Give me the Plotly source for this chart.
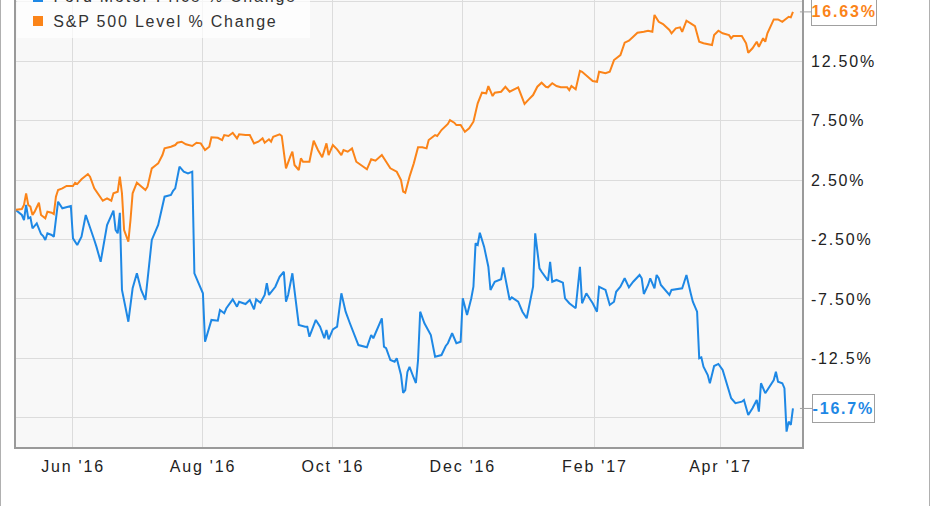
import plotly.graph_objects as go

# ---------------- data ----------------
sp_dates = [
    "2016-05-05", "2016-05-08", "2016-05-09", "2016-05-10", "2016-05-11", "2016-05-12", "2016-05-13",
    "2016-05-14", "2016-05-16", "2016-05-17", "2016-05-19", "2016-05-20", "2016-05-22", "2016-05-23",
    "2016-05-24", "2016-05-25", "2016-05-27", "2016-05-29", "2016-06-01", "2016-06-02", "2016-06-03",
    "2016-06-05", "2016-06-08", "2016-06-09", "2016-06-11", "2016-06-13", "2016-06-15", "2016-06-17",
    "2016-06-19", "2016-06-20", "2016-06-22", "2016-06-23", "2016-06-24", "2016-06-25", "2016-06-27",
    "2016-06-28", "2016-06-29", "2016-07-01", "2016-07-03", "2016-07-05", "2016-07-06", "2016-07-08",
    "2016-07-10", "2016-07-11", "2016-07-13", "2016-07-14", "2016-07-17", "2016-07-19", "2016-07-20",
    "2016-07-22", "2016-07-24", "2016-07-27", "2016-07-29", "2016-07-31", "2016-08-02", "2016-08-04",
    "2016-08-05", "2016-08-08", "2016-08-10", "2016-08-11", "2016-08-13", "2016-08-15", "2016-08-17",
    "2016-08-18", "2016-08-21", "2016-08-23", "2016-08-25", "2016-08-27", "2016-08-29", "2016-08-30",
    "2016-09-01", "2016-09-02", "2016-09-03", "2016-09-06", "2016-09-07", "2016-09-09", "2016-09-11",
    "2016-09-12", "2016-09-13", "2016-09-15", "2016-09-16", "2016-09-17", "2016-09-20", "2016-09-22",
    "2016-09-24", "2016-09-26", "2016-09-28", "2016-09-29", "2016-10-01", "2016-10-03", "2016-10-05",
    "2016-10-06", "2016-10-08", "2016-10-10", "2016-10-12", "2016-10-14", "2016-10-17", "2016-10-19",
    "2016-10-21", "2016-10-24", "2016-10-26", "2016-10-28", "2016-10-31", "2016-11-02", "2016-11-03",
    "2016-11-04", "2016-11-06", "2016-11-08", "2016-11-10", "2016-11-12", "2016-11-14", "2016-11-15",
    "2016-11-17", "2016-11-18", "2016-11-19", "2016-11-21", "2016-11-24", "2016-11-25", "2016-11-27",
    "2016-11-28", "2016-11-30", "2016-12-02", "2016-12-04", "2016-12-06", "2016-12-08", "2016-12-10",
    "2016-12-12", "2016-12-13", "2016-12-15", "2016-12-16", "2016-12-19", "2016-12-21", "2016-12-23",
    "2016-12-25", "2016-12-27", "2016-12-29", "2016-12-30", "2017-01-01", "2017-01-03", "2017-01-05",
    "2017-01-07", "2017-01-09", "2017-01-10", "2017-01-12", "2017-01-14", "2017-01-16", "2017-01-19",
    "2017-01-20", "2017-01-21", "2017-01-23", "2017-01-25", "2017-01-26", "2017-01-29", "2017-01-31",
    "2017-02-02", "2017-02-03", "2017-02-06", "2017-02-08", "2017-02-10", "2017-02-13", "2017-02-15",
    "2017-02-17", "2017-02-19", "2017-02-21", "2017-02-24", "2017-02-26", "2017-02-28", "2017-03-01",
    "2017-03-03", "2017-03-05", "2017-03-08", "2017-03-09", "2017-03-11", "2017-03-13", "2017-03-14",
    "2017-03-16", "2017-03-18", "2017-03-20", "2017-03-22", "2017-03-24", "2017-03-28", "2017-03-29",
    "2017-03-31", "2017-04-02", "2017-04-05", "2017-04-06", "2017-04-07", "2017-04-11", "2017-04-13",
    "2017-04-14", "2017-04-16", "2017-04-18", "2017-04-19", "2017-04-21", "2017-04-22", "2017-04-23",
    "2017-04-26", "2017-04-28", "2017-04-30", "2017-05-02", "2017-05-03", "2017-05-04", "2017-05-05",
]
sp_values = [
    0.0, 0.06, 0.4, 1.38, 0.4, 0.26, -0.44,
    -0.16, 0.59, -0.44, -0.72, -0.16, -0.25, -0.36,
    1.1, 1.66, 1.8, 2.0, 2.0, 2.27, 2.16,
    2.56, 3.0, 2.78, 1.8, 1.24, 0.76, 0.96,
    0.76, 1.38, 1.52, 2.78, 1.38, -1.7, -2.68,
    -0.86, 1.38, 2.27, 2.0, 1.66, 1.94, 3.48,
    3.76, 3.9, 4.6, 5.16, 5.3, 5.44, 5.63,
    5.72, 5.5, 5.36, 5.63, 5.58, 5.02, 5.3,
    6.09, 6.05, 5.86, 6.28, 6.2, 6.47, 6.0,
    6.34, 6.28, 6.28, 5.58, 5.72, 6.0, 5.63,
    5.92, 5.72, 6.14, 6.34, 6.2, 3.48, 4.46,
    4.88, 3.76, 3.34, 4.32, 4.04, 4.04, 5.8,
    5.02, 4.41, 5.58, 4.6, 5.44, 5.08, 4.6,
    5.02, 4.88, 5.16, 4.04, 3.76, 3.4, 4.24,
    4.12, 4.6, 4.04, 3.48, 3.2, 2.5, 1.52,
    1.43, 2.78, 3.9, 5.25, 5.25, 5.16, 5.86,
    6.14, 6.28, 6.2, 6.7, 7.21, 7.54, 7.32,
    7.12, 7.12, 6.56, 6.84, 7.4, 8.95, 9.84,
    9.79, 10.4, 9.56, 9.84, 9.92, 10.34, 9.92,
    10.12, 10.29, 9.37, 8.89, 9.28, 9.64, 10.34,
    10.68, 10.34, 10.29, 10.63, 10.4, 10.29, 10.29,
    10.06, 10.4, 10.12, 11.68, 11.6, 11.18, 10.82,
    10.76, 11.6, 11.47, 11.6, 12.58, 13.0, 14.04,
    14.21, 14.54, 14.88, 14.96, 15.05, 14.96, 16.37,
    15.8, 15.61, 15.11, 14.83, 15.25, 15.33, 14.96,
    15.89, 15.67, 15.44, 14.12, 13.99, 13.84, 14.68,
    15.05, 14.83, 14.68, 14.41, 14.6, 14.6, 13.99,
    13.2, 13.57, 14.12, 13.7, 14.41, 14.12, 14.83,
    16.0, 16.0, 15.8, 16.09, 16.22, 16.17, 16.63,
]

ford_dates = [
    "2016-05-05", "2016-05-08", "2016-05-09", "2016-05-10", "2016-05-11", "2016-05-12", "2016-05-13",
    "2016-05-15", "2016-05-17", "2016-05-18", "2016-05-19", "2016-05-20", "2016-05-22", "2016-05-23",
    "2016-05-25", "2016-05-27", "2016-05-31", "2016-06-01", "2016-06-03", "2016-06-05", "2016-06-07",
    "2016-06-09", "2016-06-11", "2016-06-12", "2016-06-14", "2016-06-17", "2016-06-20", "2016-06-21",
    "2016-06-22", "2016-06-23", "2016-06-24", "2016-06-27", "2016-06-29", "2016-07-01", "2016-07-03",
    "2016-07-05", "2016-07-08", "2016-07-11", "2016-07-13", "2016-07-14", "2016-07-17", "2016-07-18",
    "2016-07-19", "2016-07-21", "2016-07-23", "2016-07-25", "2016-07-27", "2016-07-28", "2016-07-30",
    "2016-08-01", "2016-08-02", "2016-08-04", "2016-08-05", "2016-08-08", "2016-08-09", "2016-08-11",
    "2016-08-12", "2016-08-15", "2016-08-17", "2016-08-18", "2016-08-21", "2016-08-23", "2016-08-25",
    "2016-08-26", "2016-08-28", "2016-08-30", "2016-08-31", "2016-09-01", "2016-09-04", "2016-09-06",
    "2016-09-08", "2016-09-09", "2016-09-10", "2016-09-12", "2016-09-15", "2016-09-18", "2016-09-19",
    "2016-09-20", "2016-09-23", "2016-09-25", "2016-09-27", "2016-09-28", "2016-09-29", "2016-10-01",
    "2016-10-03", "2016-10-05", "2016-10-07", "2016-10-09", "2016-10-12", "2016-10-13", "2016-10-17",
    "2016-10-19", "2016-10-20", "2016-10-24", "2016-10-25", "2016-10-26", "2016-10-28", "2016-10-30",
    "2016-10-31", "2016-11-02", "2016-11-03", "2016-11-04", "2016-11-05", "2016-11-06", "2016-11-08",
    "2016-11-09", "2016-11-10", "2016-11-11", "2016-11-13", "2016-11-15", "2016-11-16", "2016-11-18",
    "2016-11-21", "2016-11-23", "2016-11-24", "2016-11-26", "2016-11-28", "2016-11-30", "2016-12-01",
    "2016-12-03", "2016-12-05", "2016-12-06", "2016-12-07", "2016-12-08", "2016-12-09", "2016-12-11",
    "2016-12-13", "2016-12-14", "2016-12-16", "2016-12-19", "2016-12-20", "2016-12-23", "2016-12-24",
    "2016-12-27", "2016-12-29", "2016-12-31", "2017-01-03", "2017-01-04", "2017-01-06", "2017-01-07",
    "2017-01-10", "2017-01-11", "2017-01-12", "2017-01-14", "2017-01-17", "2017-01-18", "2017-01-20",
    "2017-01-23", "2017-01-25", "2017-01-26", "2017-01-28", "2017-01-30", "2017-01-31", "2017-02-02",
    "2017-02-03", "2017-02-06", "2017-02-08", "2017-02-10", "2017-02-11", "2017-02-13", "2017-02-15",
    "2017-02-17", "2017-02-19", "2017-02-22", "2017-02-23", "2017-02-24", "2017-02-26", "2017-02-27",
    "2017-03-01", "2017-03-02", "2017-03-03", "2017-03-04", "2017-03-08", "2017-03-09", "2017-03-11",
    "2017-03-14", "2017-03-15", "2017-03-16", "2017-03-18", "2017-03-19", "2017-03-21", "2017-03-22",
    "2017-03-23", "2017-03-24", "2017-03-26", "2017-03-27", "2017-03-29", "2017-03-31", "2017-04-02",
    "2017-04-04", "2017-04-06", "2017-04-08", "2017-04-11", "2017-04-12", "2017-04-14", "2017-04-16",
    "2017-04-18", "2017-04-19", "2017-04-20", "2017-04-22", "2017-04-24", "2017-04-26", "2017-04-27",
    "2017-04-28", "2017-04-30", "2017-05-01", "2017-05-02", "2017-05-03", "2017-05-04", "2017-05-05",
]
ford_values = [
    0.0, -0.44, -0.86, 0.4, -0.72, -0.63, -1.56,
    -1.14, -2.04, -2.21, -2.54, -1.98, -2.12, -2.27,
    0.68, 0.12, 0.32, -2.4, -2.96, -2.27, -0.44,
    -1.42, -2.54, -3.1, -4.37, -1.28, -0.08, -1.7,
    -1.98, -0.25, -6.74, -9.41, -6.6, -5.34, -6.74,
    -7.58, -2.54, -1.28, 0.26, 1.1, 1.24, 1.6,
    1.8, 3.62, 3.2, 3.06, 3.2, -5.34, -6.18,
    -7.02, -11.09, -9.83, -9.26, -9.32, -8.42, -8.7,
    -8.28, -7.53, -8.15, -7.73, -7.92, -7.58, -8.37,
    -7.53, -7.81, -7.16, -6.18, -7.16, -6.47, -5.63,
    -5.21, -7.73, -7.16, -5.34, -9.68, -9.83, -9.83,
    -10.67, -9.26, -9.83, -10.8, -10.11, -10.89, -10.05,
    -9.83, -7.02, -8.57, -9.54, -10.8, -11.37, -11.56,
    -10.53, -10.8, -9.12, -11.51, -11.64, -12.63, -12.77,
    -12.48, -13.89, -15.4, -15.15, -13.63, -13.21, -14.14,
    -14.56, -12.63, -8.57, -9.54, -10.25, -10.53, -12.35,
    -12.21, -11.45, -11.22, -10.38, -11.22, -11.09, -7.44,
    -8.84, -7.44, -6.47, -2.82, -2.96, -1.93, -3.1,
    -4.79, -6.74, -6.05, -5.84, -4.84, -7.58, -7.36,
    -7.73, -8.57, -9.12, -6.47, -1.98, -4.92, -5.21,
    -5.96, -4.37, -6.05, -5.9, -6.13, -7.44, -7.86,
    -8.28, -4.79, -7.86, -7.02, -7.58, -7.86, -8.57,
    -6.47, -6.74, -8.0, -7.73, -6.89, -6.47, -5.76,
    -6.52, -6.05, -5.48, -5.76, -7.08, -6.32, -5.76,
    -6.6, -5.48, -5.76, -6.32, -7.16, -6.74, -6.68,
    -6.6, -6.05, -5.48, -7.02, -7.73, -8.57, -12.48,
    -12.4, -13.19, -13.89, -14.58, -13.13, -12.96, -13.47,
    -14.58, -15.84, -16.26, -16.13, -15.99, -17.25, -16.68,
    -15.99, -16.97, -14.58, -15.42, -14.87, -14.31, -13.61,
    -14.45, -14.58, -15.0, -18.65, -17.81, -18.09, -16.7,
]

series_names = ["Ford Motor Price % Change", "S&P 500 Level % Change"]
end_labels = ["-16.7%", "16.63%"]

x_tick_vals = ["2016-06-01", "2016-08-01", "2016-10-01", "2016-12-01", "2017-02-01", "2017-04-01"]
x_tick_text = ["Jun '16", "Aug '16", "Oct '16", "Dec '16", "Feb '17", "Apr '17"]
y_tick_vals = [-17.5, -12.5, -7.5, -2.5, 2.5, 7.5, 12.5, 17.5]
y_tick_text = ["", "-12.5%", "-7.50%", "-2.50%", "2.50%", "7.50%", "12.50%", ""]

# ---------------- style ----------------
BLUE = "#1e88e5"
ORANGE = "#fb8419"
FONT = "Liberation Sans, Arial, sans-serif"
SPACING = 1.8  # letter spacing of the reference's text, px
W, H = 931, 506
ML, MR, MT, MB = 16, 129, 0, 59
PW, PH = W - ML - MR, H - MT - MB


def px_x(p):
    return (p - ML) / PW


def px_y(p):
    return 1 - (p - MT) / PH


fig = go.Figure()
fig.add_trace(go.Scatter(x=ford_dates, y=ford_values, mode="lines", name=series_names[0],
                         line=dict(color=BLUE, width=2), showlegend=False))
fig.add_trace(go.Scatter(x=sp_dates, y=sp_values, mode="lines", name=series_names[1],
                         line=dict(color=ORANGE, width=2), showlegend=False))

# end-value callouts
for dates, vals, txt, col in [(ford_dates, ford_values, end_labels[0], BLUE),
                              (sp_dates, sp_values, end_labels[1], ORANGE)]:
    fig.add_annotation(x=dates[-1], y=vals[-1], xref="x", yref="y", text="<b>%s</b>" % txt,
                       showarrow=True, ax=51, ay=0, arrowhead=0, arrowwidth=1, arrowcolor="#a0a0a0",
                       standoff=7, bgcolor="white", bordercolor="#a0a0a0", borderwidth=1, borderpad=5,
                       font=dict(family=FONT, size=16, color=col))

# legend (top item cut by the picture edge, as in the reference)
fig.add_shape(type="rect", xref="paper", yref="paper", x0=0.0015, x1=px_x(310), y0=px_y(38), y1=1.06,
              fillcolor="rgba(255,255,255,0.72)", line=dict(width=0), layer="above")
for i, (name, col) in enumerate(zip(series_names, [BLUE, ORANGE])):
    cy = -3 + 24 * i
    fig.add_shape(type="rect", xref="paper", yref="paper", x0=px_x(33), x1=px_x(43),
                  y0=px_y(cy + 5), y1=px_y(cy - 5), fillcolor=col, line=dict(width=0), layer="above")
    fig.add_annotation(xref="paper", yref="paper", x=px_x(51 + SPACING / 2 * len(name)), y=px_y(cy),
                       xanchor="left", yanchor="middle", text=name, showarrow=False,
                       font=dict(family=FONT, size=16, color="#333333"))

# outer frame lines of the picture
for xp in [0.5, 929.5]:
    fig.add_shape(type="line", xref="paper", yref="paper", x0=px_x(xp), x1=px_x(xp),
                  y0=px_y(H), y1=1.0, line=dict(color="#b0b0b0", width=1))

fig.update_layout(
    width=W, height=H,
    margin=dict(l=ML, r=MR, t=MT, b=MB, pad=0),
    paper_bgcolor="white", plot_bgcolor="#f8f8f8",
    font=dict(family=FONT, size=16, color="#222222"),
    showlegend=False,
)
fig.update_xaxes(type="date", range=["2016-05-05 06:00", "2017-05-09 06:00"],
                 tickvals=x_tick_vals, ticktext=x_tick_text,
                 showgrid=True, gridcolor="#dcdcdc", gridwidth=1,
                 showline=True, linecolor="#9a9a9a", linewidth=1.5, mirror=False,
                 ticks="outside", ticklen=4, tickcolor="rgba(0,0,0,0)",
                 tickfont=dict(family=FONT, size=16, color="#222222"), zeroline=False)
fig.update_yaxes(side="right", range=[-19.94, 17.63],
                 tickvals=y_tick_vals, ticktext=y_tick_text,
                 showgrid=True, gridcolor="#dcdcdc", gridwidth=1,
                 showline=True, linecolor="#9a9a9a", linewidth=1.5, mirror=True,
                 ticks="outside", ticklen=4, tickcolor="rgba(0,0,0,0)",
                 tickfont=dict(family=FONT, size=16, color="#222222"), zeroline=False)

post = ("var s=document.createElement('style');"
        "s.innerHTML='body{margin:0;overflow:hidden} svg text{letter-spacing:%spx}';"
        "document.head.appendChild(s);"
        "var gd=document.getElementById('{plot_id}');"
        "Plotly.newPlot(gd, gd.data, gd.layout, {displayModeBar:false});" % SPACING)
fig.write_html("out.html", config={"displayModeBar": False}, post_script=post)
